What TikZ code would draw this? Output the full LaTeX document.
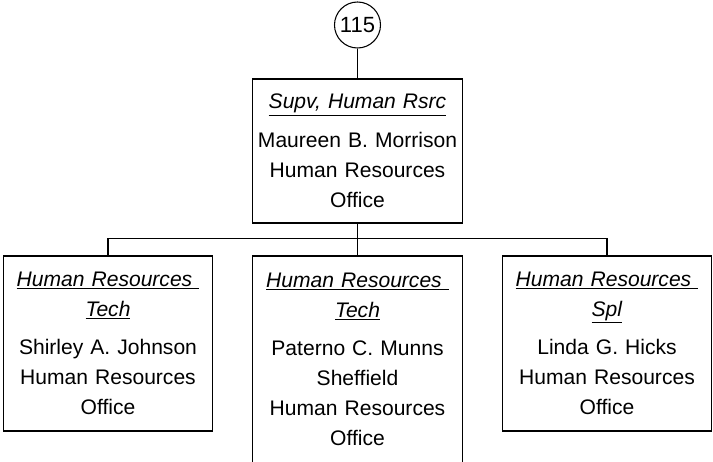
\documentclass[tikz,border=0pt]{standalone}
\usepackage{fontspec}
\setmainfont{Liberation Sans}
\usetikzlibrary{positioning}

\begin{document}
\begin{tikzpicture}[x=0.75pt,y=0.75pt,line width=0.8pt,
  every node/.style={font=\fontsize{15.8}{22.5}\selectfont},
  posbox/.style={draw,align=center,text width=150pt,inner sep=2pt,
    minimum width=157pt},
  refcircle/.style={draw,circle,inner sep=0pt,minimum size=34.5pt,
    font=\fontsize{16.5}{18}\selectfont}]
  \useasboundingbox (0,0) rectangle (713,461);
  \node[refcircle] (n115) at (357.5,436) {115};
  \node[posbox,minimum height=108pt] (supv) at (357.5,310)
    {\underline{\textit{Supv, Human Rsrc}}\\[6.5pt]
     Maureen B. Morrison\\Human Resources\hspace*{.28em}\\Office};
  \node[posbox,minimum height=131.25pt] (techa) at (108,117.5)
    {\underline{\textit{Human Resources\ }}\\\underline{\textit{Tech}}\\[6.5pt]
     Shirley A. Johnson\\Human Resources\hspace*{.28em}\\Office};
  \node[posbox,minimum height=155.25pt] (techb) at (357.5,101.5)
    {\underline{\textit{Human Resources\ }}\\\underline{\textit{Tech}}\\[6.5pt]
     Paterno C. Munns\\Sheffield\\Human Resources\hspace*{.28em}\\Office};
  \node[posbox,minimum height=131.25pt] (spl) at (607,117.5)
    {\underline{\textit{Human Resources\ }}\\\underline{\textit{Spl}}\\[6.5pt]
     Linda G. Hicks\\Human Resources\hspace*{.28em}\\Office};
  % connectors
  \draw (n115) -- (supv);
  \draw (supv) -- (techb);
  \draw (techa.north) -- ++(0,17) -| (spl.north);
\end{tikzpicture}
\end{document}
